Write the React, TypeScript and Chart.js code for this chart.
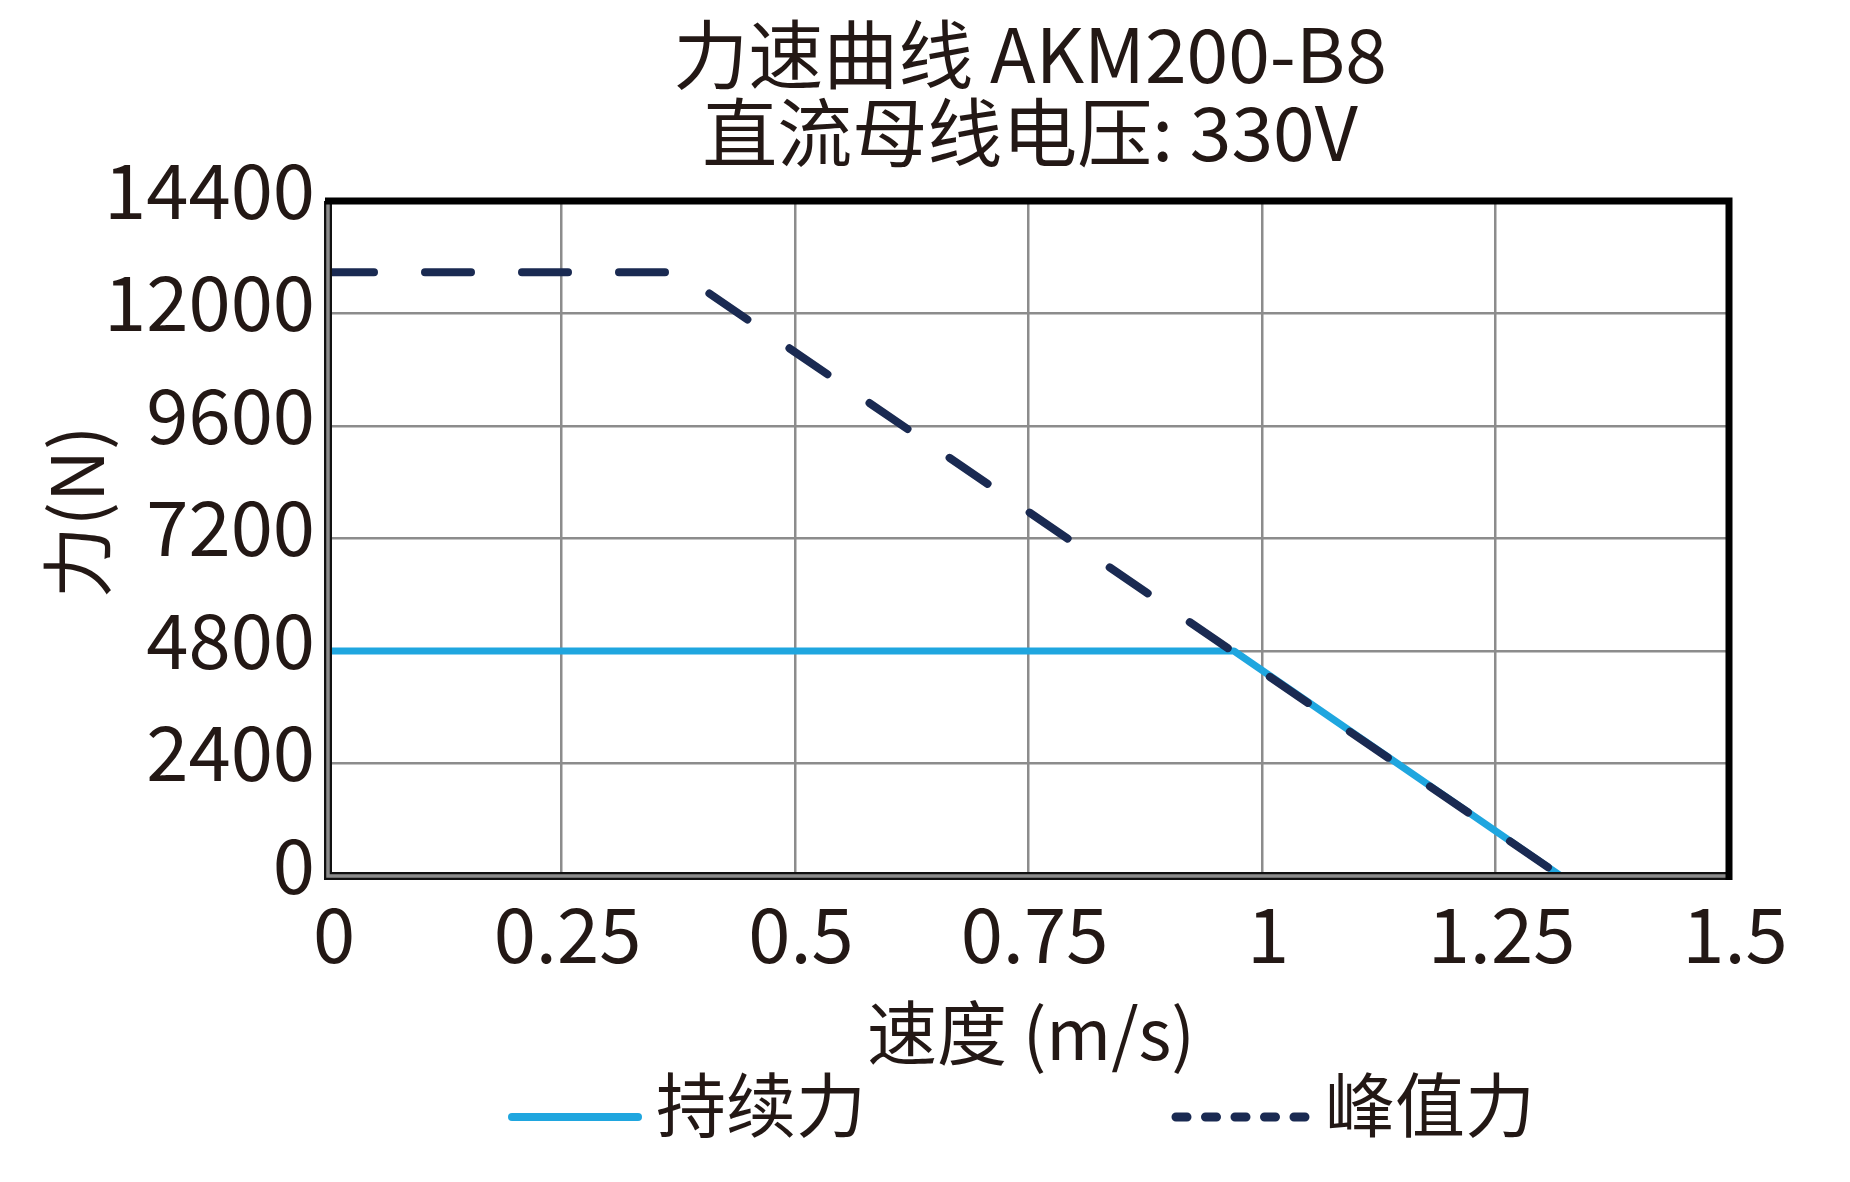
import { useEffect, useRef } from "react";
import { Chart, registerables } from "chart.js";

Chart.register(...registerables);

const FONT = '"Noto Sans CJK SC", "Noto Sans", sans-serif';
const TEXT = "#231815";

const title1 = "力速曲线 AKM200-B8";
const title2 = "直流母线电压: 330V";
const xTitle = "速度 (m/s)";
const yTitle = "力(N)";
const seriesNames = ["持续力", "峰值力"];

const xTickValues = [0, 0.25, 0.5, 0.75, 1, 1.25, 1.5];
const xTickLabels = ["0", "0.25", "0.5", "0.75", "1", "1.25", "1.5"];
const yTickValues = [0, 2400, 4800, 7200, 9600, 12000, 14400];
const yTickLabels = ["0", "2400", "4800", "7200", "9600", "12000", "14400"];

// continuous force (持续力)
const contSpeed = [0, 0.97, 1.32];
const contForce = [4800, 4800, 0];
// peak force (峰值力)
const peakSpeed = [0, 0.375, 1.32];
const peakForce = [12880, 12880, 0];

const BLUE = "#1fa6df";
const NAVY = "#1a2a52";

const decorPlugin = {
  id: "decor",
  afterDatasetsDraw(chart: Chart) {
    const ctx = chart.ctx;
    const { left, right, top, bottom } = chart.chartArea;
    ctx.save();
    // left + bottom: grey core with dark outline
    ctx.lineCap = "butt";
    ctx.strokeStyle = "#111";
    ctx.lineWidth = 8;
    ctx.beginPath();
    ctx.moveTo(left, top);
    ctx.lineTo(left, bottom);
    ctx.lineTo(right, bottom);
    ctx.stroke();
    ctx.strokeStyle = "#8c8c8c";
    ctx.lineWidth = 3.5;
    ctx.stroke();
    // top + right: solid black
    ctx.strokeStyle = "#000";
    ctx.lineWidth = 7;
    ctx.lineJoin = "miter";
    ctx.beginPath();
    ctx.moveTo(left - 3, top);
    ctx.lineTo(right, top);
    ctx.lineTo(right, bottom + 4);
    ctx.stroke();
    ctx.restore();
  },
  afterDraw(chart: Chart) {
    const ctx = chart.ctx;
    ctx.save();
    ctx.fillStyle = TEXT;
    ctx.textAlign = "center";
    ctx.textBaseline = "middle";
    ctx.font = `75px ${FONT}`;
    ctx.fillText(title1, 1030, 54);
    ctx.fillText(title2, 1030, 132);
    ctx.font = `70px ${FONT}`;
    ctx.fillText(xTitle, 1031, 1033);

    ctx.save();
    ctx.translate(77, 512);
    ctx.rotate(-Math.PI / 2);
    ctx.font = `72px ${FONT}`;
    ctx.fillText(yTitle, 0, 0);
    ctx.restore();

    // legend
    ctx.lineCap = "round";
    ctx.strokeStyle = BLUE;
    ctx.lineWidth = 8;
    ctx.beginPath();
    ctx.moveTo(512, 1117);
    ctx.lineTo(638, 1117);
    ctx.stroke();
    ctx.strokeStyle = NAVY;
    ctx.lineWidth = 9;
    ctx.setLineDash([11, 18.5]);
    ctx.beginPath();
    ctx.moveTo(1176, 1117);
    ctx.lineTo(1306, 1117);
    ctx.stroke();
    ctx.setLineDash([]);
    ctx.font = `70px ${FONT}`;
    ctx.textAlign = "left";
    ctx.fillText(seriesNames[0], 656, 1105);
    ctx.fillText(seriesNames[1], 1325, 1105);
    ctx.restore();
  },
};

export default function App() {
  const canvasRef = useRef<HTMLCanvasElement>(null);
  const chartRef = useRef<Chart | null>(null);

  useEffect(() => {
    document.body.style.margin = "0";
    if (!canvasRef.current) return;
    if (chartRef.current) chartRef.current.destroy();

    chartRef.current = new Chart(canvasRef.current, {
      type: "line",
      data: {
        datasets: [
          {
            label: seriesNames[0],
            data: contSpeed.map((x, i) => ({ x, y: contForce[i] })),
            borderColor: BLUE,
            borderWidth: 7,
            pointRadius: 0,
            borderCapStyle: "round",
            borderJoinStyle: "round",
            tension: 0,
            order: 2,
          },
          {
            label: seriesNames[1],
            data: peakSpeed.map((x, i) => ({ x, y: peakForce[i] })),
            borderColor: NAVY,
            borderWidth: 8,
            borderDash: [46, 51],
            pointRadius: 0,
            borderCapStyle: "round",
            borderJoinStyle: "round",
            tension: 0,
            order: 1,
          },
        ],
      },
      options: {
        responsive: false,
        animation: false,
        layout: { padding: { left: 0, top: 201, right: 121, bottom: 0 } },
        plugins: {
          legend: { display: false },
          tooltip: { enabled: false },
          title: { display: false },
        },
        scales: {
          x: {
            type: "linear",
            min: 0,
            max: 1.5,
            afterBuildTicks: (s: any) => { s.ticks = xTickValues.map((v) => ({ value: v })); },
            afterFit: (s: any) => { s.height = 306; },
            ticks: {
              callback: (_v: any, i: number) => xTickLabels[i],
              font: { size: 76, family: FONT },
              color: TEXT,
              padding: 13,
              labelOffset: 6,
              maxRotation: 0,
              autoSkip: false,
            },
            grid: { color: "#8c8c8c", lineWidth: 2.5, drawTicks: false },
            border: { display: false },
          },
          y: {
            type: "linear",
            min: 0,
            max: 14400,
            afterBuildTicks: (s: any) => { s.ticks = yTickValues.map((v) => ({ value: v })); },
            afterFit: (s: any) => { s.width = 328; },
            ticks: {
              callback: (_v: any, i: number) => yTickLabels[i],
              font: { size: 76, family: FONT },
              color: TEXT,
              padding: 13,
              labelOffset: -11,
              autoSkip: false,
            },
            grid: { color: "#8c8c8c", lineWidth: 2.5, drawTicks: false },
            border: { display: false },
          },
        },
      },
      plugins: [decorPlugin],
    });

    return () => { chartRef.current?.destroy(); chartRef.current = null; };
  }, []);

  return (
    <div style={{ width: 1850, height: 1182, background: "#fff" }}>
      <canvas ref={canvasRef} width={1850} height={1182} />
    </div>
  );
}
